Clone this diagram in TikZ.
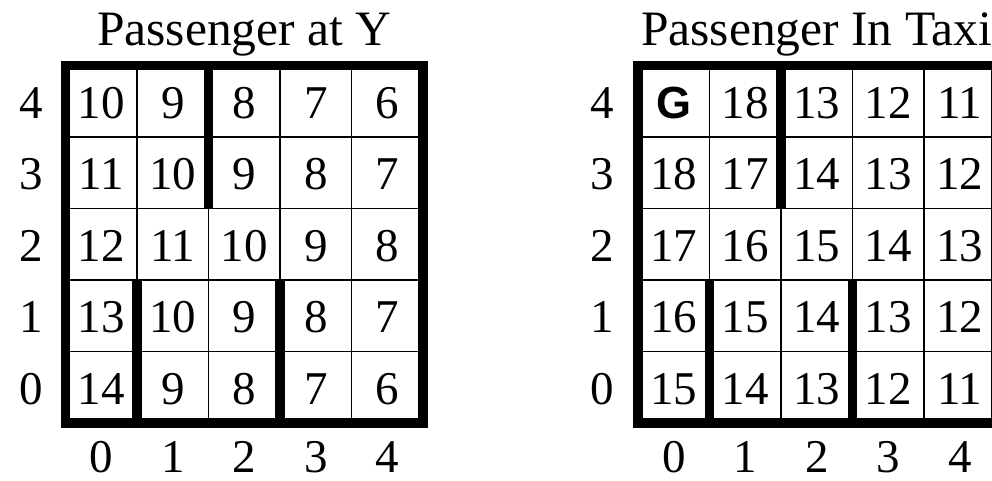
\documentclass[tikz,border=0pt]{standalone}
\usepackage{fontspec}
\setmainfont{Liberation Serif}
\newfontfamily\goalfont{Liberation Sans}
\usetikzlibrary{positioning}

\begin{document}
\begin{tikzpicture}[x=1pt, y=-1pt,
  cell/.style={font=\fontsize{47}{50}\selectfont, inner sep=0pt},
  ttl/.style={font=\fontsize{49.5}{52}\selectfont, inner sep=0pt, anchor=base},
  thinline/.style={line width=1.5pt},
  wall/.style={line width=9.5pt}
]
\useasboundingbox (0,0) rectangle (992,480);

% left grid: passenger at Y
\node[ttl] (py-title) at (244.25,45) {Passenger at Y};
\foreach \row [count=\i from 0] in {{10,9,8,7,6},{11,10,9,8,7},{12,11,10,9,8},{13,10,9,8,7},{14,9,8,7,6}} {
  \foreach \v [count=\j from 0] in \row
    \node[cell] (py-\j-\i) at ({65.5+(\j+0.5)*71.5},{65.5+(\i+0.5)*71.5+1.5}) {\v};
}
\foreach \k in {0,...,4} {
  \node[cell] (py-r\k) at (31,{65.5+(4.5-\k)*71.5+1.5}) {\k};
  \node[cell] (py-c\k) at ({65.5+(\k+0.5)*71.5},457) {\k};
}
\foreach \k in {1,...,4} {
  \draw[thinline] ({65.5+\k*71.5},65.5) -- ++(0,357.5);
  \draw[thinline] (65.5,{65.5+\k*71.5}) -- ++(357.5,0);
}
\draw[wall] (65.5,65.5) rectangle ++(357.5,357.5);
\draw[wall] ({65.5+2*71.5},65.5) -- ++(0,143);
\draw[wall] ({65.5+71.5},{65.5+3*71.5}) -- ++(0,143);
\draw[wall] ({65.5+3*71.5},{65.5+3*71.5}) -- ++(0,143);

% right grid: passenger in taxi
\node[ttl] (pt-title) at (816.75,45) {Passenger In Taxi};
\foreach \row [count=\i from 0] in {{{\goalfont\bfseries\fontsize{45}{48}\selectfont G},18,13,12,11},{18,17,14,13,12},{17,16,15,14,13},{16,15,14,13,12},{15,14,13,12,11}} {
  \foreach \v [count=\j from 0] in \row
    \node[cell] (pt-\j-\i) at ({638+(\j+0.5)*71.5},{65.5+(\i+0.5)*71.5+1.5}) {\v};
}
\foreach \k in {0,...,4} {
  \node[cell] (pt-r\k) at (602,{65.5+(4.5-\k)*71.5+1.5}) {\k};
  \node[cell] (pt-c\k) at ({638+(\k+0.5)*71.5},457) {\k};
}
\foreach \k in {1,...,4} {
  \draw[thinline] ({638+\k*71.5},65.5) -- ++(0,357.5);
  \draw[thinline] (638,{65.5+\k*71.5}) -- ++(357.5,0);
}
\draw[wall] (638,65.5) rectangle ++(357.5,357.5);
\draw[wall] ({638+2*71.5},65.5) -- ++(0,143);
\draw[wall] ({638+71.5},{65.5+3*71.5}) -- ++(0,143);
\draw[wall] ({638+3*71.5},{65.5+3*71.5}) -- ++(0,143);
\end{tikzpicture}
\end{document}
